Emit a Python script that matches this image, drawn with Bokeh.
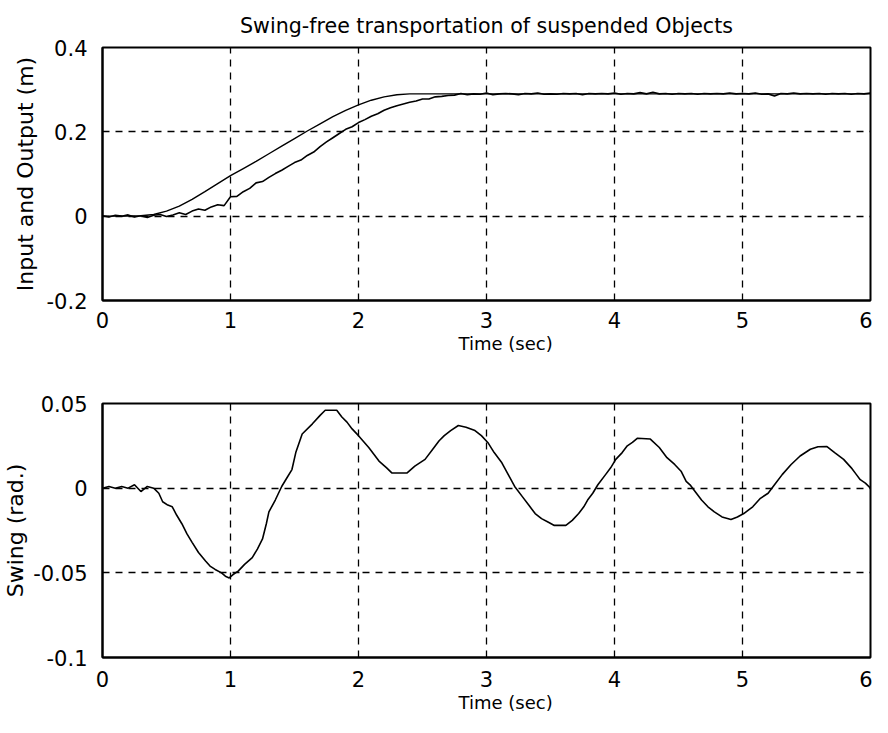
from bokeh.plotting import figure
from bokeh.layouts import column
from bokeh.models import FixedTicker, Range1d, Title
from bokeh.embed import file_html
from bokeh.resources import INLINE

FONT = "DejaVu Sans"

TITLE = "Swing-free transportation of suspended Objects"
X_LABEL = "Time (sec)"
Y1_LABEL = "Input and Output (m)"
Y2_LABEL = "Swing (rad.)"

x_ticks = [0, 1, 2, 3, 4, 5, 6]
y1_ticks = [-0.2, 0, 0.2, 0.4]
y1_tick_labels = ["-0.2", "0", "0.2", "0.4"]
y2_ticks = [-0.1, -0.05, 0, 0.05]
y2_tick_labels = ["-0.1", "-0.05", "0", "0.05"]

# Input (reference trajectory), smooth
input_t = [0.0, 0.1, 0.2, 0.3, 0.4, 0.5, 0.6, 0.7, 0.8, 0.9, 1.0, 1.1, 1.2, 1.3,
           1.4, 1.5, 1.6, 1.7, 1.8, 1.9, 2.0, 2.1, 2.2, 2.3, 2.4, 2.5, 6.0]
input_v = [0.0, 0.0, 0.0, 0.001, 0.004, 0.012, 0.024, 0.040, 0.058, 0.077, 0.096,
           0.113, 0.130, 0.148, 0.166, 0.184, 0.202, 0.219, 0.236, 0.251, 0.264,
           0.275, 0.283, 0.288, 0.290, 0.290, 0.290]

# Output (measured position), noisy, sampled every 0.05 s
output_t = [round(i * 0.05, 2) for i in range(121)]
output_v = [
    0.001, -0.002, 0.002, 0.000, 0.003, -0.002, 0.001, -0.003, 0.002, 0.004,
    -0.001, 0.003, 0.008, 0.004, 0.012, 0.017, 0.014, 0.022, 0.027, 0.025,
    0.046, 0.047, 0.058, 0.066, 0.079, 0.082, 0.092, 0.101, 0.109, 0.118,
    0.127, 0.133, 0.144, 0.152, 0.165, 0.176, 0.186, 0.196, 0.206, 0.212,
    0.222, 0.229, 0.237, 0.243, 0.251, 0.257, 0.262, 0.266, 0.270, 0.273,
    0.278, 0.278, 0.283, 0.284, 0.286, 0.287, 0.291, 0.288, 0.290, 0.289,
    0.292, 0.288, 0.290, 0.291, 0.290, 0.288, 0.291, 0.290, 0.292, 0.289,
    0.290, 0.289, 0.291, 0.290, 0.291, 0.288, 0.291, 0.290, 0.291, 0.290,
    0.292, 0.289, 0.291, 0.290, 0.293, 0.290, 0.294, 0.290, 0.291, 0.289,
    0.291, 0.290, 0.291, 0.289, 0.291, 0.290, 0.291, 0.290, 0.292, 0.290,
    0.291, 0.290, 0.292, 0.289, 0.290, 0.285, 0.291, 0.290, 0.292, 0.290,
    0.291, 0.290, 0.291, 0.289, 0.291, 0.290, 0.291, 0.289, 0.291, 0.290,
    0.292,
]

# Swing angle
swing_t = [0.00, 0.05, 0.10, 0.15, 0.20, 0.25, 0.30, 0.35, 0.40, 0.44, 0.47, 0.51,
           0.545, 0.58, 0.62, 0.66, 0.70, 0.75, 0.805, 0.84, 0.88, 0.93, 0.96, 0.99,
           1.02, 1.06, 1.11, 1.17, 1.21, 1.25, 1.28, 1.30, 1.35, 1.40, 1.44, 1.48,
           1.51, 1.56, 1.64, 1.70, 1.74, 1.79, 1.83, 1.87, 1.91, 1.95, 2.00, 2.08,
           2.16, 2.22, 2.26, 2.32, 2.38, 2.44, 2.52, 2.58, 2.63, 2.67, 2.72, 2.78,
           2.84, 2.91, 2.96, 3.01, 3.06, 3.12, 3.17, 3.22, 3.28, 3.33, 3.38, 3.43,
           3.48, 3.53, 3.62, 3.67, 3.72, 3.76, 3.79, 3.83, 3.87, 3.93, 3.97, 4.01,
           4.06, 4.10, 4.14, 4.18, 4.28, 4.35, 4.41, 4.47, 4.52, 4.56, 4.59, 4.64,
           4.68, 4.73, 4.78, 4.84, 4.91, 4.96, 5.01, 5.08, 5.14, 5.20, 5.25, 5.31,
           5.38, 5.45, 5.53, 5.59, 5.66, 5.72, 5.79, 5.85, 5.89, 5.92, 5.96, 6.00]
swing_v = [0.000, 0.001, 0.000, 0.001, 0.000, 0.002, -0.002, 0.001, 0.000, -0.003,
           -0.008, -0.010, -0.011, -0.016, -0.021, -0.027, -0.032, -0.038, -0.043,
           -0.046, -0.048, -0.050, -0.052, -0.053, -0.051, -0.049, -0.045, -0.041,
           -0.036, -0.030, -0.021, -0.014, -0.007, 0.001, 0.006, 0.011, 0.021, 0.032,
           0.038, 0.043, 0.046, 0.046, 0.046, 0.042, 0.039, 0.035, 0.031, 0.024,
           0.016, 0.012, 0.009, 0.009, 0.009, 0.013, 0.017, 0.023, 0.028, 0.031,
           0.034, 0.037, 0.036, 0.034, 0.031, 0.027, 0.021, 0.015, 0.008, 0.001,
           -0.005, -0.010, -0.015, -0.018, -0.020, -0.022, -0.022, -0.019, -0.015,
           -0.011, -0.007, -0.003, 0.002, 0.008, 0.012, 0.017, 0.021, 0.025, 0.027,
           0.0295, 0.029, 0.024, 0.018, 0.014, 0.010, 0.004, 0.002, -0.003, -0.007,
           -0.011, -0.014, -0.017, -0.0185, -0.017, -0.015, -0.011, -0.006, -0.003,
           0.002, 0.008, 0.014, 0.019, 0.023, 0.0245, 0.0246, 0.021, 0.017, 0.012,
           0.008, 0.005, 0.003, 0.000]


def style(p, yticks, ylabels, ylabel_standoff, xtick_standoff, xlabel_standoff):
    p.xaxis.ticker = FixedTicker(ticks=x_ticks)
    p.yaxis.ticker = FixedTicker(ticks=yticks)
    p.yaxis.major_label_overrides = {t: l for t, l in zip(yticks, ylabels)}
    p.xaxis.major_label_overrides = {t: str(t) for t in x_ticks}
    for g in (p.xgrid, p.ygrid):
        g.grid_line_color = "black"
        g.grid_line_width = 1.3
        g.grid_line_dash = "7 6"
        g.grid_line_alpha = 1.0
    p.outline_line_color = "black"
    p.outline_line_width = 2
    p.axis.axis_line_color = "black"
    p.axis.axis_line_width = 2
    p.axis.major_tick_line_color = None
    p.axis.minor_tick_line_color = None
    p.axis.major_label_text_font = FONT
    p.axis.major_label_text_font_size = "21px"
    p.axis.major_label_text_color = "black"
    p.axis.axis_label_text_font = FONT
    p.axis.axis_label_text_font_style = "normal"
    p.axis.axis_label_text_color = "black"
    p.yaxis.axis_label_text_font_size = "22px"
    p.xaxis.major_label_standoff = xtick_standoff
    p.yaxis.major_label_standoff = 9
    p.yaxis.axis_label_standoff = ylabel_standoff
    p.background_fill_color = "white"
    p.border_fill_color = "white"
    # x-axis label under the tick labels, a little right of the frame centre
    xl = Title(text=X_LABEL, align="left", offset=356, standoff=xlabel_standoff,
               text_font=FONT, text_font_size="18px", text_font_style="normal",
               text_color="black")
    p.add_layout(xl, "below")


p1 = figure(frame_width=768, frame_height=253, output_backend="svg",
            toolbar_location=None,
            x_range=Range1d(0, 6), y_range=Range1d(-0.2, 0.4),
            min_border_left=102, min_border_right=2, min_border_top=47,
            min_border_bottom=70, title=TITLE)
p1.title.text_font = FONT
p1.title.text_font_size = "20.6px"
p1.title.text_font_style = "normal"
p1.title.text_color = "black"
p1.title.align = "center"
p1.title.standoff = 20
p1.yaxis.axis_label = Y1_LABEL
style(p1, y1_ticks, y1_tick_labels, 6, 5, 0)
p1.line(input_t, input_v, line_color="black", line_width=1.4)
p1.line(output_t, output_v, line_color="black", line_width=1.6)

p2 = figure(frame_width=768, frame_height=254, output_backend="svg",
            toolbar_location=None,
            x_range=Range1d(0, 6), y_range=Range1d(-0.1, 0.05),
            min_border_left=102, min_border_right=2, min_border_top=33,
            min_border_bottom=50)
p2.yaxis.axis_label = Y2_LABEL
style(p2, y2_ticks, y2_tick_labels, 2, 7, 0)
p2.line(swing_t, swing_v, line_color="black", line_width=1.6)

layout = column(p1, p2, spacing=0)

open("out.html", "w").write(file_html(layout, INLINE))
